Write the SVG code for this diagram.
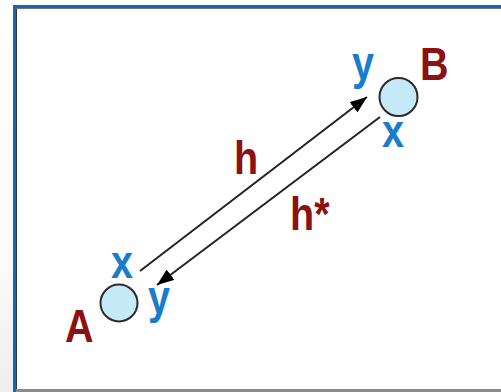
<svg xmlns="http://www.w3.org/2000/svg" width="501" height="392" viewBox="0 0 501 392">
<defs>
<linearGradient id="side" x1="0" y1="0" x2="0" y2="1">
<stop offset="0" stop-color="#ffffff"/>
<stop offset="0.7" stop-color="#fafafa"/>
<stop offset="1" stop-color="#eeeeee"/>
</linearGradient>
<marker id="ahb" viewBox="0 0 17 13" refX="17" refY="6.5" markerWidth="17" markerHeight="13" markerUnits="userSpaceOnUse" orient="auto">
<path d="M0,0 L17,6.5 L0,13 z" fill="#000"/>
</marker>
</defs>
<style>
.node{fill:#c6e9f8;stroke:#2b2b2b;stroke-width:2}
.lbl{font-family:"Liberation Sans",Arial,sans-serif;font-weight:bold;font-size:46px;fill:#8c1111}
.port{font-family:"Liberation Sans",Arial,sans-serif;font-weight:bold;font-size:46px;fill:#1a7dcc}
.edge{stroke:#222;stroke-width:2;fill:none;marker-end:url(#ahb)}
</style>
<rect x="0" y="0" width="501" height="392" fill="#ffffff"/>
<rect x="0" y="0" width="13" height="392" fill="url(#side)"/>
<g id="frame">
<rect x="14.5" y="6.5" width="500" height="400" fill="#ffffff" stroke="#1565b8" stroke-width="3"/>
<line x1="16.5" y1="8" x2="16.5" y2="392" stroke="#333" stroke-width="1"/>
<line x1="16" y1="8.5" x2="501" y2="8.5" stroke="#777" stroke-width="1"/>
<rect x="16" y="389" width="485" height="3" fill="#8a8a8a"/>
</g>
<g id="connectors">
<line class="edge" x1="140" y1="271" x2="367" y2="97"/>
<line class="edge" x1="380" y1="117" x2="157" y2="285"/>
<text class="lbl" transform="translate(234 174) scale(0.86 1)">h</text>
<text class="lbl" transform="translate(290 230) scale(0.86 1)">h*</text>
</g>
<g id="nodeA">
<circle class="node" cx="119" cy="303" r="18.5"/>
<text class="lbl" transform="translate(65 342) scale(0.86 1)">A</text>
<text class="port" transform="translate(111 278) scale(0.86 1)">x</text>
<text class="port" transform="translate(148 313) scale(0.86 1)">y</text>
</g>
<g id="nodeB">
<circle class="node" cx="398.5" cy="97" r="19"/>
<text class="lbl" transform="translate(420 80) scale(0.86 1)">B</text>
<text class="port" transform="translate(352 79) scale(0.86 1)">y</text>
<text class="port" transform="translate(382 147) scale(0.86 1)">x</text>
</g>
</svg>
